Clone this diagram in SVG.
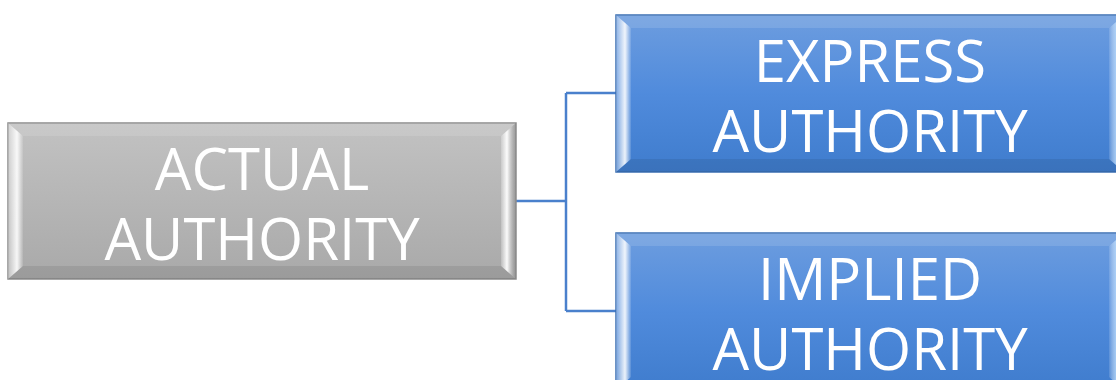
<svg xmlns="http://www.w3.org/2000/svg" width="1116" height="380" viewBox="0 0 1116 380">
  <defs>
    <linearGradient id="gGray" x1="0" y1="0" x2="0" y2="1">
      <stop offset="0" stop-color="#c2c2c2"/>
      <stop offset="1" stop-color="#a9a9a9"/>
    </linearGradient>
    <linearGradient id="gBlue" x1="0" y1="0" x2="0" y2="1">
      <stop offset="0" stop-color="#6d9ddf"/>
      <stop offset="0.5" stop-color="#508bdc"/>
      <stop offset="1" stop-color="#3f7ccd"/>
    </linearGradient>
    <linearGradient id="bevL" x1="0" y1="0" x2="1" y2="0">
      <stop offset="0" stop-color="#ffffff" stop-opacity="0.25"/>
      <stop offset="0.6" stop-color="#ffffff" stop-opacity="0.9"/>
      <stop offset="1" stop-color="#ffffff" stop-opacity="0.1"/>
    </linearGradient>
    <linearGradient id="bevR" x1="0" y1="0" x2="1" y2="0">
      <stop offset="0" stop-color="#ffffff" stop-opacity="0.2"/>
      <stop offset="0.4" stop-color="#ffffff" stop-opacity="0.95"/>
      <stop offset="1" stop-color="#808080" stop-opacity="0.6"/>
    </linearGradient>
    <linearGradient id="bevRb" x1="0" y1="0" x2="1" y2="0">
      <stop offset="0" stop-color="#ffffff" stop-opacity="0.1"/>
      <stop offset="0.5" stop-color="#bfe0ff" stop-opacity="0.8"/>
      <stop offset="1" stop-color="#2a5fa8" stop-opacity="0.5"/>
    </linearGradient>
  </defs>
  <style>
    .lbl { font-family: "Open Sans", "Liberation Sans", sans-serif; font-size: 58px; fill: #ffffff; text-anchor: middle; }
    .edge { fill: none; stroke: #4a80cc; stroke-width: 2.5; }
    .grayBox { fill: url(#gGray); stroke: #8c8c8c; stroke-width: 1.5; }
    .blueBox { fill: url(#gBlue); stroke: #3b6fb3; stroke-width: 1.5; }
    .topBev { fill: #ffffff; fill-opacity: 0.12; }
    .botBev { fill: #000000; fill-opacity: 0.08; }
  </style>

  <g id="connectors">
    <path class="edge" d="M516 201 H566" stroke-width="3.5"/>
    <path class="edge" d="M566 93 V311"/>
    <path class="edge" d="M566 93 H616"/>
    <path class="edge" d="M566 311 H616"/>
  </g>

  <g id="node-actual">
    <rect class="grayBox" x="8" y="123" width="508" height="156"/>
    <polygon class="topBev" points="8,123 516,123 501,136 23,136"/>
    <polygon class="botBev" points="8,279 516,279 501,266 23,266"/>
    <polygon fill="url(#bevL)" points="8,123 23,136 23,266 8,279"/>
    <polygon fill="url(#bevR)" points="516,123 501,136 501,266 516,279"/>
    <text class="lbl" x="262" y="190">ACTUAL</text>
    <text class="lbl" x="262" y="260">AUTHORITY</text>
  </g>

  <g id="node-express">
    <rect class="blueBox" x="616" y="15" width="508" height="157"/>
    <polygon class="topBev" points="616,15 1124,15 1109,28 631,28"/>
    <polygon class="botBev" points="616,172 1124,172 1109,159 631,159"/>
    <polygon fill="url(#bevL)" points="616,15 631,28 631,159 616,172"/>
    <polygon fill="url(#bevRb)" points="1124,15 1109,28 1109,159 1124,172"/>
    <text class="lbl" x="870" y="82">EXPRESS</text>
    <text class="lbl" x="870" y="152">AUTHORITY</text>
  </g>

  <g id="node-implied">
    <rect class="blueBox" x="616" y="233" width="508" height="157"/>
    <polygon class="topBev" points="616,233 1124,233 1109,246 631,246"/>
    <polygon fill="url(#bevL)" points="616,233 631,246 631,377 616,390"/>
    <polygon fill="url(#bevRb)" points="1124,233 1109,246 1109,377 1124,390"/>
    <text class="lbl" x="870" y="300">IMPLIED</text>
    <text class="lbl" x="870" y="370">AUTHORITY</text>
  </g>
</svg>
